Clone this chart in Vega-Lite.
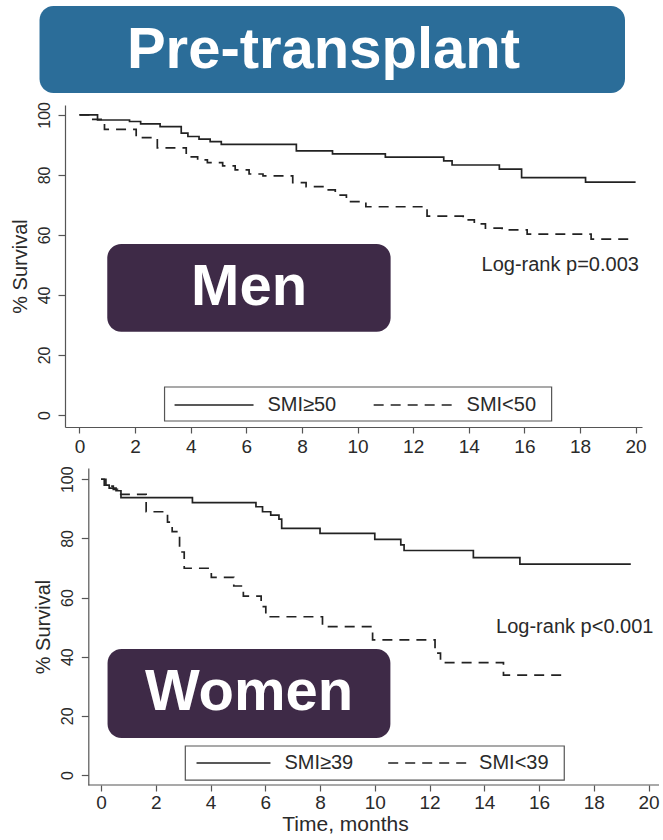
{
  "$schema": "https://vega.github.io/schema/vega-lite/v6.json",
  "padding": {"left": 10, "top": 6, "right": 0, "bottom": 0},
  "background": "white",
  "config": {
    "view": {"stroke": null},
    "font": "Liberation Sans",
    "axis": {"labelFont": "Liberation Sans", "titleFont": "Liberation Sans", "labelColor": "#2a2a2a", "titleColor": "#2a2a2a", "domainColor": "#555", "tickColor": "#555", "grid": false, "titleFontWeight": "normal", "domainWidth": 1.2, "tickWidth": 1.2, "labelFlush": false, "labelOverlap": false}
  },
  "datasets": {
    "men": [
      {"group": "SMI≥50", "t": 0, "s": 100}, {"group": "SMI≥50", "t": 0.65, "s": 98.3}, {"group": "SMI≥50", "t": 1.8, "s": 97.8}, {"group": "SMI≥50", "t": 2.2, "s": 97.0}, {"group": "SMI≥50", "t": 2.9, "s": 96.1}, {"group": "SMI≥50", "t": 3.66, "s": 93.9}, {"group": "SMI≥50", "t": 3.9, "s": 92.8}, {"group": "SMI≥50", "t": 4.3, "s": 91.9}, {"group": "SMI≥50", "t": 4.7, "s": 91.1}, {"group": "SMI≥50", "t": 5.1, "s": 90.2}, {"group": "SMI≥50", "t": 7.8, "s": 88.0}, {"group": "SMI≥50", "t": 9.1, "s": 87.0}, {"group": "SMI≥50", "t": 11.0, "s": 85.9}, {"group": "SMI≥50", "t": 13.1, "s": 84.7}, {"group": "SMI≥50", "t": 13.4, "s": 83.3}, {"group": "SMI≥50", "t": 15.1, "s": 81.9}, {"group": "SMI≥50", "t": 15.9, "s": 79.1}, {"group": "SMI≥50", "t": 18.2, "s": 77.6}, {"group": "SMI≥50", "t": 20.0, "s": 77.6},
      {"group": "SMI<50", "t": 0, "s": 100}, {"group": "SMI<50", "t": 0.35, "s": 98.5}, {"group": "SMI<50", "t": 0.9, "s": 95.2}, {"group": "SMI<50", "t": 2.04, "s": 92.4}, {"group": "SMI<50", "t": 2.8, "s": 89.0}, {"group": "SMI<50", "t": 3.84, "s": 86.0}, {"group": "SMI<50", "t": 4.25, "s": 85.0}, {"group": "SMI<50", "t": 4.6, "s": 84.1}, {"group": "SMI<50", "t": 5.15, "s": 83.0}, {"group": "SMI<50", "t": 5.6, "s": 81.7}, {"group": "SMI<50", "t": 6.1, "s": 80.3}, {"group": "SMI<50", "t": 6.6, "s": 79.7}, {"group": "SMI<50", "t": 7.67, "s": 77.4}, {"group": "SMI<50", "t": 8.15, "s": 76.1}, {"group": "SMI<50", "t": 8.8, "s": 75.0}, {"group": "SMI<50", "t": 9.2, "s": 73.3}, {"group": "SMI<50", "t": 9.6, "s": 71.1}, {"group": "SMI<50", "t": 10.3, "s": 69.4}, {"group": "SMI<50", "t": 12.5, "s": 66.3}, {"group": "SMI<50", "t": 13.8, "s": 65.0}, {"group": "SMI<50", "t": 14.2, "s": 63.7}, {"group": "SMI<50", "t": 14.6, "s": 62.3}, {"group": "SMI<50", "t": 15.2, "s": 61.7}, {"group": "SMI<50", "t": 16.1, "s": 60.3}, {"group": "SMI<50", "t": 18.4, "s": 58.6}, {"group": "SMI<50", "t": 19.9, "s": 58.6}
    ],
    "women": [
      {"group": "SMI≥39", "t": 0, "s": 100}, {"group": "SMI≥39", "t": 0.18, "s": 98.0}, {"group": "SMI≥39", "t": 0.3, "s": 97.0}, {"group": "SMI≥39", "t": 0.55, "s": 96.1}, {"group": "SMI≥39", "t": 0.73, "s": 93.8}, {"group": "SMI≥39", "t": 3.34, "s": 92.1}, {"group": "SMI≥39", "t": 5.66, "s": 90.7}, {"group": "SMI≥39", "t": 5.9, "s": 89.0}, {"group": "SMI≥39", "t": 6.2, "s": 87.9}, {"group": "SMI≥39", "t": 6.5, "s": 86.5}, {"group": "SMI≥39", "t": 6.6, "s": 83.4}, {"group": "SMI≥39", "t": 8.0, "s": 81.7}, {"group": "SMI≥39", "t": 10.0, "s": 79.7}, {"group": "SMI≥39", "t": 10.95, "s": 77.8}, {"group": "SMI≥39", "t": 11.07, "s": 75.9}, {"group": "SMI≥39", "t": 13.6, "s": 73.5}, {"group": "SMI≥39", "t": 15.3, "s": 71.3}, {"group": "SMI≥39", "t": 19.35, "s": 71.3},
      {"group": "SMI<39", "t": 0, "s": 100}, {"group": "SMI<39", "t": 0.12, "s": 97.7}, {"group": "SMI<39", "t": 0.45, "s": 96.6}, {"group": "SMI<39", "t": 0.6, "s": 94.9}, {"group": "SMI<39", "t": 1.65, "s": 89.0}, {"group": "SMI<39", "t": 2.43, "s": 85.5}, {"group": "SMI<39", "t": 2.6, "s": 82.3}, {"group": "SMI<39", "t": 2.87, "s": 75.4}, {"group": "SMI<39", "t": 3.04, "s": 69.9}, {"group": "SMI<39", "t": 4.03, "s": 66.8}, {"group": "SMI<39", "t": 4.85, "s": 63.9}, {"group": "SMI<39", "t": 5.2, "s": 60.5}, {"group": "SMI<39", "t": 5.85, "s": 56.9}, {"group": "SMI<39", "t": 6.02, "s": 53.5}, {"group": "SMI<39", "t": 8.09, "s": 50.2}, {"group": "SMI<39", "t": 9.92, "s": 45.7}, {"group": "SMI<39", "t": 12.2, "s": 41.2}, {"group": "SMI<39", "t": 12.4, "s": 38.0}, {"group": "SMI<39", "t": 14.7, "s": 33.8}, {"group": "SMI<39", "t": 16.85, "s": 33.8}
    ]
  },
  "bounds": "flush",
  "spacing": 12,
  "vconcat": [
    {
      "width": 560,
      "height": 87,
      "data": {"values": [{"label": "Pre-transplant"}]},
      "layer": [
        {
          "mark": {"type": "rect", "cornerRadius": 14, "fill": "#2B6D99", "clip": false},
          "encoding": {
            "x": {"datum": -0.0455, "type": "quantitative", "scale": {"domain": [0, 1], "nice": false, "zero": false}, "axis": null},
            "x2": {"datum": 1},
            "y": {"datum": 0, "type": "quantitative", "scale": {"domain": [0, 1], "nice": false, "zero": false}, "axis": null},
            "y2": {"datum": 1}
          }
        },
        {
          "mark": {"type": "text", "fontSize": 58, "fontWeight": "bold", "fill": "white", "align": "center", "baseline": "middle", "font": "Liberation Sans"},
          "encoding": {
            "x": {"datum": 0.4616, "type": "quantitative"},
            "y": {"datum": 0.48, "type": "quantitative"},
            "text": {"field": "label"}
          }
        }
      ]
    },
    {
      "bounds": "flush",
      "spacing": 41,
      "vconcat": [
        {
          "width": 577,
          "height": 322,
          "layer": [
            {
              "data": {"name": "men"},
              "mark": {"type": "line", "interpolate": "step-after", "strokeWidth": 1.7, "color": "#222"},
              "encoding": {
                "x": {"field": "t", "type": "quantitative", "scale": {"domain": [-0.52, 20.23], "nice": false, "zero": false},
                  "axis": {"title": null, "values": [0,1,2,3,4,5,6,7,8,9,10,11,12,13,14,15,16,17,18,19,20], "labelExpr": "datum.value % 2 === 0 ? datum.label : ''", "tickSize": {"condition": {"test": "datum.value % 2 === 0", "value": 6}, "value": 4}, "labelFontSize": 19, "labelPadding": 4}},
                "y": {"field": "s", "type": "quantitative", "scale": {"domain": [-4, 103.3], "nice": false, "zero": false},
                  "axis": {"title": "% Survival", "titleFontSize": 20, "titlePadding": 6, "values": [0,10,20,30,40,50,60,70,80,90,100], "labelExpr": "datum.value % 20 === 0 ? datum.label : ''", "tickSize": 7, "labelFontSize": 16, "labelAngle": 270, "labelAlign": "center", "labelBaseline": "bottom", "labelPadding": 6}},
                "strokeDash": {"field": "group", "type": "nominal", "scale": {"domain": ["SMI≥50", "SMI<50"], "range": [[1, 0], [10, 7]]}, "legend": null}
              }
            },
            {
              "data": {"values": [{"label": "Men"}]},
              "layer": [
                {"mark": {"type": "rect", "cornerRadius": 14, "fill": "#3E2A47"},
                 "encoding": {"x": {"datum": 1.0}, "x2": {"datum": 11.19}, "y": {"datum": 57}, "y2": {"datum": 27.7}}},
                {"mark": {"type": "text", "fontSize": 58, "fontWeight": "bold", "fill": "white", "align": "center", "baseline": "middle"},
                 "encoding": {"x": {"datum": 6.1}, "y": {"datum": 42.3}, "text": {"field": "label"}}},
                {"mark": {"type": "rect", "fill": "white", "stroke": "#555", "strokeWidth": 1.2},
                 "encoding": {"x": {"datum": 3.06}, "x2": {"datum": 16.98}, "y": {"datum": 9.33}, "y2": {"datum": -2}}},
                {"mark": {"type": "rule", "color": "#222", "strokeWidth": 1.7},
                 "encoding": {"x": {"datum": 3.42}, "x2": {"datum": 6.26}, "y": {"datum": 3.33}}},
                {"mark": {"type": "rule", "color": "#222", "strokeWidth": 1.7, "strokeDash": [10, 7]},
                 "encoding": {"x": {"datum": 10.58}, "x2": {"datum": 13.49}, "y": {"datum": 3.33}}},
                {"mark": {"type": "text", "fontSize": 20, "fill": "#2a2a2a", "align": "left", "baseline": "middle", "text": "SMI≥50"},
                 "encoding": {"x": {"datum": 6.76}, "y": {"datum": 3.33}}},
                {"mark": {"type": "text", "fontSize": 20, "fill": "#2a2a2a", "align": "left", "baseline": "middle", "text": "SMI<50"},
                 "encoding": {"x": {"datum": 13.92}, "y": {"datum": 3.33}}},
                {"mark": {"type": "text", "fontSize": 20, "fill": "#2a2a2a", "align": "left", "baseline": "middle", "text": "Log-rank p=0.003"},
                 "encoding": {"x": {"datum": 14.46}, "y": {"datum": 50}}}
              ]
            }
          ]
        },
        {
          "width": 594,
          "height": 317,
          "layer": [
            {
              "data": {"name": "women"},
              "mark": {"type": "line", "interpolate": "step-after", "strokeWidth": 1.7, "color": "#222"},
              "encoding": {
                "x": {"field": "t", "type": "quantitative", "scale": {"domain": [-1.314, 20.38], "nice": false, "zero": false},
                  "axis": {"title": "Time, months", "titleFontSize": 21, "titlePadding": 1, "titleX": 280, "domain": false, "values": [0,1,2,3,4,5,6,7,8,9,10,11,12,13,14,15,16,17,18,19,20], "labelExpr": "datum.value % 2 === 0 ? datum.label : ''", "tickSize": {"condition": {"test": "datum.value % 2 === 0", "value": 6}, "value": 4}, "labelFontSize": 19, "labelPadding": 2}},
                "y": {"field": "s", "type": "quantitative", "scale": {"domain": [-3.38, 103.8], "nice": false, "zero": false},
                  "axis": {"title": "% Survival", "offset": -23.3, "titleFontSize": 20, "titlePadding": 6, "values": [0,10,20,30,40,50,60,70,80,90,100], "labelExpr": "datum.value % 20 === 0 ? datum.label : ''", "tickSize": 7, "labelFontSize": 16, "labelAngle": 270, "labelAlign": "center", "labelBaseline": "bottom", "labelPadding": 6}},
                "strokeDash": {"field": "group", "type": "nominal", "scale": {"domain": ["SMI≥39", "SMI<39"], "range": [[1, 0], [10, 7]]}, "legend": null}
              }
            },
            {
              "data": {"values": [{"label": "Women"}]},
              "layer": [
                {"mark": {"type": "rule", "color": "#555", "strokeWidth": 1.2},
                 "encoding": {"x": {"datum": -0.46}, "x2": {"datum": 20.38}, "y": {"datum": -3.38}}},
                {"mark": {"type": "rect", "cornerRadius": 14, "fill": "#3E2A47"},
                 "encoding": {"x": {"datum": 0.24}, "x2": {"datum": 10.57}, "y": {"datum": 42.6}, "y2": {"datum": 12.5}}},
                {"mark": {"type": "text", "fontSize": 58, "fontWeight": "bold", "fill": "white", "align": "center", "baseline": "middle"},
                 "encoding": {"x": {"datum": 5.41}, "y": {"datum": 27.6}, "text": {"field": "label"}}},
                {"mark": {"type": "rect", "fill": "white", "stroke": "#555", "strokeWidth": 1.2},
                 "encoding": {"x": {"datum": 3.08}, "x2": {"datum": 16.92}, "y": {"datum": 9.8}, "y2": {"datum": -1.7}}},
                {"mark": {"type": "rule", "color": "#222", "strokeWidth": 1.7},
                 "encoding": {"x": {"datum": 3.49}, "x2": {"datum": 6.19}, "y": {"datum": 4.06}}},
                {"mark": {"type": "rule", "color": "#222", "strokeWidth": 1.7, "strokeDash": [10, 7]},
                 "encoding": {"x": {"datum": 10.49}, "x2": {"datum": 13.34}, "y": {"datum": 4.06}}},
                {"mark": {"type": "text", "fontSize": 20, "fill": "#2a2a2a", "align": "left", "baseline": "middle", "text": "SMI≥39"},
                 "encoding": {"x": {"datum": 6.7}, "y": {"datum": 4.06}}},
                {"mark": {"type": "text", "fontSize": 20, "fill": "#2a2a2a", "align": "left", "baseline": "middle", "text": "SMI<39"},
                 "encoding": {"x": {"datum": 13.81}, "y": {"datum": 4.06}}},
                {"mark": {"type": "text", "fontSize": 20, "fill": "#2a2a2a", "align": "left", "baseline": "middle", "text": "Log-rank p<0.001"},
                 "encoding": {"x": {"datum": 14.43}, "y": {"datum": 50}}}
              ]
            }
          ]
        }
      ]
    }
  ]
}
